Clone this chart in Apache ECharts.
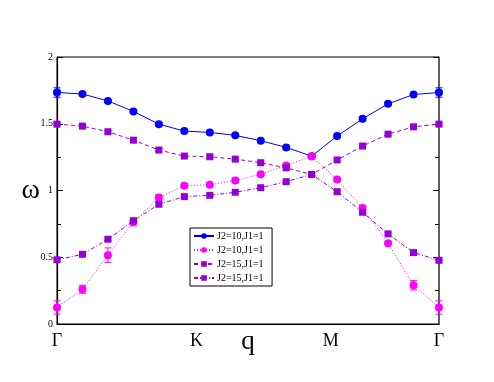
<!DOCTYPE html>
<html>
<head>
<meta charset="utf-8">
<script src="https://cdn.jsdelivr.net/npm/echarts@6/dist/echarts.min.js"></script>
<style>
  html, body { margin: 0; padding: 0; background: #fff; }
  #chart { width: 494px; height: 382px; }
</style>
</head>
<body>
<div id="chart"></div>
<script>
// q index along the path Γ-K-M-Γ
var qIdx = [0, 1, 2, 3, 4, 5, 6, 7, 8, 9, 10, 11, 12, 13, 14, 15];

// two legend rows share a label, so the second copy carries a trailing space
var seriesNames = ['J2=10,J1=1', 'J2=10,J1=1 ', 'J2=15,J1=1', 'J2=15,J1=1 '];

var blueVals = [1.734, 1.723, 1.671, 1.592, 1.497, 1.445, 1.435, 1.413, 1.373, 1.323, 1.257, 1.408, 1.537, 1.649, 1.719, 1.734];
var blueErr  = [0.035, 0.010, 0.010, 0.010, 0.012, 0.012, 0.012, 0.012, 0.010, 0.010, 0.010, 0.010, 0.015, 0.012, 0.010, 0.035];

var pinkVals = [0.124, 0.260, 0.515, 0.765, 0.948, 1.035, 1.043, 1.075, 1.122, 1.187, 1.257, 1.083, 0.869, 0.605, 0.290, 0.123];
var pinkErr  = [0.050, 0.030, 0.055, 0.030, 0.020, 0.015, 0.015, 0.015, 0.010, 0.010, 0.010, 0.015, 0.020, 0.010, 0.035, 0.050];

var purpleHiVals = [1.497, 1.482, 1.440, 1.377, 1.303, 1.258, 1.253, 1.235, 1.208, 1.170, 1.120, 1.229, 1.333, 1.422, 1.477, 1.497];
var purpleLoVals = [0.481, 0.522, 0.635, 0.772, 0.897, 0.954, 0.964, 0.987, 1.021, 1.066, 1.120, 0.991, 0.837, 0.675, 0.535, 0.477];
var purpleErr    = [0.010, 0.010, 0.010, 0.015, 0.010, 0.010, 0.010, 0.010, 0.010, 0.010, 0.010, 0.010, 0.010, 0.010, 0.010, 0.010];

var xTickVals = [0, 5.48, 10.75, 15];
var xTickLabels = ['Γ', 'K', 'M', 'Γ'];
var yTicks = [0, 0.5, 1, 1.5, 2];

var blue = '#0000ff', pink = '#ff00ff', purple = '#9400d3';
var serif = '"Liberation Serif", "DejaVu Serif", serif';

function pairs(vals) {
    return qIdx.map(function (q, i) { return [q, vals[i]]; });
}

function errData(vals, errs) {
    return qIdx.map(function (q, i) { return [q, vals[i] - errs[i], vals[i] + errs[i]]; });
}

function errSeries(vals, errs, color) {
    return {
        type: 'custom',
        silent: true,
        z: 3,
        data: errData(vals, errs),
        renderItem: function (params, api) {
            var lo = api.coord([api.value(0), api.value(1)]);
            var hi = api.coord([api.value(0), api.value(2)]);
            var w = 3.5;
            var st = { stroke: color, lineWidth: 1 };
            return {
                type: 'group',
                children: [
                    { type: 'line', shape: { x1: lo[0], y1: lo[1], x2: hi[0], y2: hi[1] }, style: st },
                    { type: 'line', shape: { x1: lo[0] - w, y1: lo[1], x2: lo[0] + w, y2: lo[1] }, style: st },
                    { type: 'line', shape: { x1: hi[0] - w, y1: hi[1], x2: hi[0] + w, y2: hi[1] }, style: st }
                ]
            };
        }
    };
}

function lineSeries(name, vals, color, symbol, size, dash) {
    return {
        name: name,
        type: 'line',
        data: pairs(vals),
        symbol: symbol,
        symbolSize: size,
        showSymbol: true,
        z: 4,
        itemStyle: { color: color },
        lineStyle: { color: color, width: 1, type: dash }
    };
}

var chart = echarts.init(document.getElementById('chart'));

chart.setOption({
    animation: false,
    backgroundColor: '#fff',
    grid: {
        left: 57, right: 55, top: 57, bottom: 58,
        show: true, borderColor: '#000', borderWidth: 1, backgroundColor: 'transparent'
    },
    legend: {
        orient: 'vertical',
        left: 190, top: 228,
        padding: [3, 6, 3, 3],
        itemGap: 4,
        itemWidth: 20,
        itemHeight: 7,
        borderColor: '#000',
        borderWidth: 1,
        textStyle: { fontFamily: serif, fontSize: 10, color: '#000', padding: [0, 0, 0, -2] },
        data: seriesNames
    },
    xAxis: {
        type: 'value',
        min: 0, max: 15,
        name: 'q',
        nameLocation: 'middle',
        nameMoveOverlap: false,
        nameGap: 4,
        nameTextStyle: { fontFamily: serif, fontSize: 27, color: '#000', verticalAlign: 'top' },
        axisLine: { show: true, lineStyle: { color: '#000', width: 1.2 } },
        axisTick: { show: false },
        splitLine: { show: false },
        axisLabel: {
            customValues: xTickVals,
            fontFamily: serif, fontSize: 18, color: '#000', margin: 8,
            formatter: function (v) {
                var i = xTickVals.indexOf(v);
                return i >= 0 ? xTickLabels[i] : '';
            }
        }
    },
    yAxis: [{
        type: 'value',
        min: 0, max: 2, interval: 0.5,
        name: 'ω',
        nameLocation: 'middle',
        nameMoveOverlap: false,
        nameRotate: 0,
        nameGap: 17,
        nameTextStyle: { fontFamily: serif, fontSize: 28, color: '#000' },
        axisLine: { show: true, lineStyle: { color: '#000', width: 1.2 } },
        axisTick: { show: true, inside: true, length: 6, lineStyle: { color: '#000' } },
        minorTick: { show: true, splitNumber: 2, length: 4, lineStyle: { color: '#000' } },
        splitLine: { show: false },
        axisLabel: {
            fontFamily: serif, fontSize: 10, color: '#000', margin: 4,
            formatter: function (v) { return yTicks.indexOf(v) >= 0 ? String(v) : ''; }
        }
    }, {
        type: 'value',
        position: 'right',
        min: 0, max: 2, interval: 0.5,
        axisLine: { show: true, lineStyle: { color: '#555', width: 1.5 } },
        axisTick: { show: true, inside: true, length: 6, lineStyle: { color: '#000' } },
        minorTick: { show: true, splitNumber: 2, length: 4, lineStyle: { color: '#000' } },
        splitLine: { show: false },
        axisLabel: { show: false }
    }],
    series: [
        errSeries(blueVals, blueErr, blue),
        errSeries(pinkVals, pinkErr, pink),
        errSeries(purpleHiVals, purpleErr, purple),
        errSeries(purpleLoVals, purpleErr, purple),
        lineSeries(seriesNames[0], blueVals, blue, 'circle', 8, 'solid'),
        lineSeries(seriesNames[1], pinkVals, pink, 'circle', 8, [1, 2]),
        lineSeries(seriesNames[2], purpleHiVals, purple, 'rect', 7, [4, 3]),
        lineSeries(seriesNames[3], purpleLoVals, purple, 'rect', 7, [4, 2, 1, 2])
    ]
});
</script>
</body>
</html>
